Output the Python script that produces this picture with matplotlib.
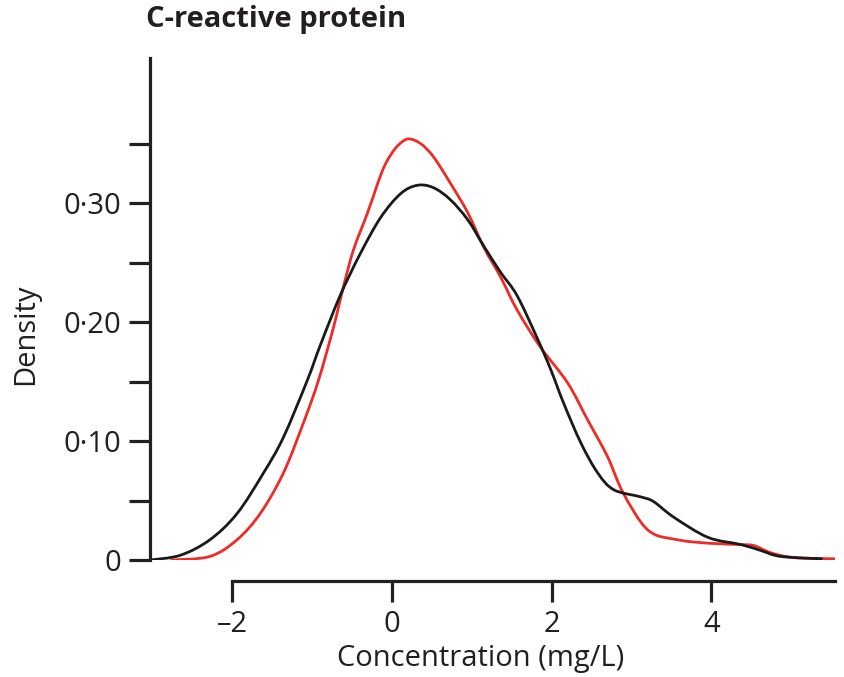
import matplotlib
matplotlib.use("Agg")
import matplotlib.pyplot as plt
from matplotlib.path import Path
from matplotlib.patches import PathPatch
import numpy as np

# curves (x in mg/L, density)
black_x = [-3.03, -2.65, -2.28, -1.94, -1.61, -1.36, -1.06, -0.90, -0.65, -0.40,
           -0.14, 0.11, 0.32, 0.52, 0.73, 0.95, 1.15, 1.36, 1.57, 1.83,
           1.99, 2.15, 2.37, 2.58, 2.78, 3.12, 3.28, 3.53, 3.96, 4.37,
           4.62, 4.87, 5.38]
black_y = [0.000, 0.004, 0.017, 0.039, 0.073, 0.103, 0.151, 0.180, 0.222, 0.257,
           0.288, 0.308, 0.315, 0.313, 0.303, 0.286, 0.264, 0.242, 0.222, 0.185,
           0.160, 0.132, 0.098, 0.073, 0.059, 0.053, 0.049, 0.036, 0.019, 0.013,
           0.008, 0.003, 0.001]

red_x = [-2.76, -2.28, -1.94, -1.65, -1.36, -1.11, -0.92, -0.73, -0.61, -0.48,
         -0.31, -0.12, 0.00, 0.10, 0.21, 0.36, 0.52, 0.73, 0.95, 1.15, 1.36,
         1.57, 1.86, 2.20, 2.45, 2.70, 2.90, 3.21, 3.58, 3.99, 4.37,
         4.54, 4.75, 5.04, 5.54]
red_y = [0.000, 0.003, 0.017, 0.039, 0.073, 0.115, 0.151, 0.196, 0.229, 0.261,
         0.291, 0.327, 0.342, 0.350, 0.354, 0.350, 0.339, 0.317, 0.292, 0.263, 0.238,
         0.210, 0.179, 0.149, 0.118, 0.087, 0.056, 0.025, 0.017, 0.014, 0.013,
         0.012, 0.006, 0.002, 0.001]

xticks = [-2, 0, 2, 4]
xlabels = ["\u20132", "0", "2", "4"]
yticks = [0, 0.05, 0.10, 0.15, 0.20, 0.25, 0.30, 0.35]
ylabels = ["0", "", "0\u00b710", "", "0\u00b720", "", "0\u00b730", ""]

ink = '#231f20'


def smooth_line(ax, xs, ys, color, lw):
    # catmull-rom through the read points, drawn as bezier segments
    pts = np.column_stack([xs, ys])
    verts = [pts[0]]
    codes = [Path.MOVETO]
    for i in range(len(pts) - 1):
        p0 = pts[max(i - 1, 0)]
        p1 = pts[i]
        p2 = pts[i + 1]
        p3 = pts[min(i + 2, len(pts) - 1)]
        c1 = p1 + (p2 - p0) / 6.0
        c2 = p2 - (p3 - p1) / 6.0
        verts += [c1, c2, p2]
        codes += [Path.CURVE4] * 3
    patch = PathPatch(Path(verts, codes), facecolor='none', edgecolor=color,
                      lw=lw, capstyle='round', joinstyle='round')
    ax.add_patch(patch)
    return patch


plt.rcParams['font.family'] = ['Open Sans', 'DejaVu Sans']

fig = plt.figure(figsize=(8.44, 6.77), dpi=100)
ax = fig.add_axes([150/844, 1 - 560/677, 685/844, 502/677])

smooth_line(ax, red_x, red_y, '#ee2b25', 2.0)
smooth_line(ax, black_x, black_y, '#1a1a1a', 2.0)

ax.set_xlim(-3.03, 5.55)
ax.set_ylim(0, 0.422)

for s in ['top', 'right']:
    ax.spines[s].set_visible(False)
for s in ['left', 'bottom']:
    ax.spines[s].set_linewidth(2.3)
    ax.spines[s].set_color(ink)
ax.spines['left'].set_bounds(0, 0.422)
ax.spines['bottom'].set_position(('outward', 15))
ax.spines['bottom'].set_bounds(-2, 5.55)

ax.set_xticks(xticks)
ax.set_xticklabels(xlabels)
ax.set_yticks(yticks)
ax.set_yticklabels(ylabels)
ax.tick_params(axis='both', direction='out', length=15, width=2.3, labelsize=21,
               color=ink, labelcolor=ink)
ax.tick_params(axis='y', pad=6)
ax.tick_params(axis='x', pad=6)

ax.set_xlabel("Concentration (mg/L)", fontsize=21, color=ink)
ax.set_ylabel("Density", fontsize=21, color=ink)
ax.xaxis.set_label_coords((481 - 150) / 685, -(644 - 560) / 502)
ax.yaxis.set_label_coords(-(150 - 40) / 685, (560 - 334) / 502)

fig.text(146/844, 1 - 20/677, "C-reactive protein", fontsize=21, fontweight='bold',
         ha='left', va='center', color=ink)

fig.savefig("out.png", dpi=100)
